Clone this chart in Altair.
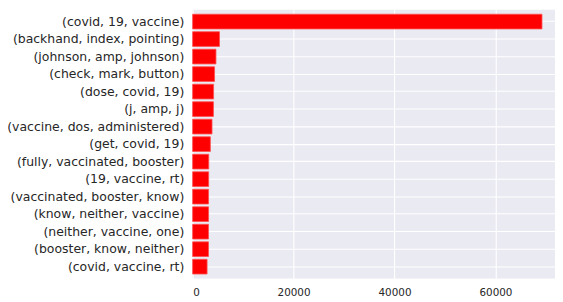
import altair as alt
import pandas as pd

ngrams = [
    "(covid, 19, vaccine)",
    "(backhand, index, pointing)",
    "(johnson, amp, johnson)",
    "(check, mark, button)",
    "(dose, covid, 19)",
    "(j, amp, j)",
    "(vaccine, dos, administered)",
    "(get, covid, 19)",
    "(fully, vaccinated, booster)",
    "(19, vaccine, rt)",
    "(vaccinated, booster, know)",
    "(know, neither, vaccine)",
    "(neither, vaccine, one)",
    "(booster, know, neither)",
    "(covid, vaccine, rt)",
]
counts = [69220, 5320, 4620, 4340, 4150, 4120, 3840, 3510, 3190, 3170, 3150, 3150, 3140, 3140, 2860]
x_ticks = [0, 20000, 40000, 60000]

df = pd.DataFrame({"ngram": ngrams, "count": counts})

chart = (
    alt.Chart(df)
    .mark_bar(color="#ff0000", stroke="#ff4d4d", strokeWidth=0.8)
    .encode(
        x=alt.X(
            "count:Q",
            scale=alt.Scale(domain=[0, 71800], nice=False, zero=True),
            axis=alt.Axis(
                values=x_ticks,
                title=None,
                grid=True,
                domain=False,
                ticks=False,
                labelPadding=9,
                labelFontSize=10.5,
                labelColor="#262626",
                labelFont="DejaVu Sans",
                format="d",
            ),
        ),
        y=alt.Y(
            "ngram:N",
            sort=None,
            scale=alt.Scale(paddingInner=0.16, paddingOuter=0.25),
            axis=alt.Axis(
                title=None,
                grid=True,
                domain=False,
                ticks=False,
                labelPadding=9,
                labelFontSize=12.6,
                labelColor="#262626",
                labelFont="DejaVu Sans",
                labelLimit=300,
            ),
        ),
    )
    .properties(
        width=367,
        height=272,
        autosize=alt.AutoSizeParams(type="none"),
        padding={"left": 187, "top": 0, "right": 0, "bottom": 20},
        background="white",
    )
    .configure_view(fill="#EAEAF2", stroke=None)
    .configure_axis(gridColor="white", gridWidth=1.1, gridOpacity=1)
)

chart.save("out.html", embed_options={"renderer": "svg", "actions": False})
